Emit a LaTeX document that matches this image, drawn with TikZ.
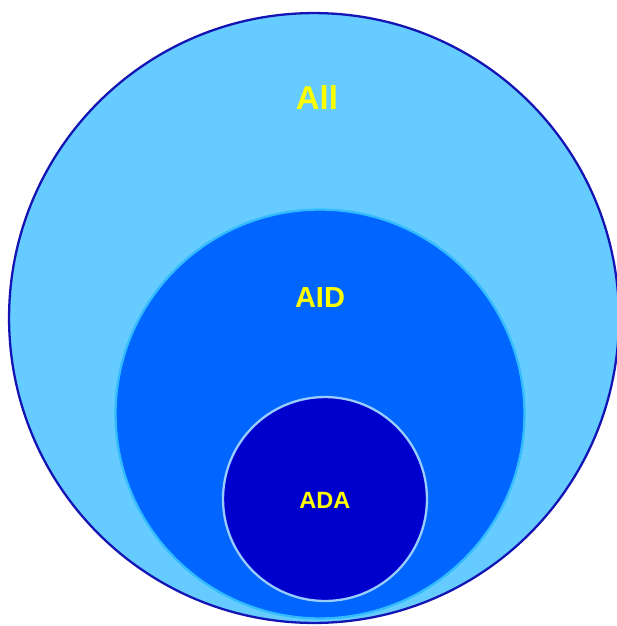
\documentclass[tikz,border=0pt]{standalone}
\usepackage{fontspec}
\setmainfont{Liberation Sans}
\usepackage{tikz}
\usetikzlibrary{positioning}

\definecolor{allfill}{HTML}{66CCFF}
\definecolor{allline}{HTML}{1414B4}
\definecolor{aidfill}{HTML}{0066FF}
\definecolor{aidline}{HTML}{33BBFF}
\definecolor{adafill}{HTML}{0000CC}
\definecolor{adaline}{HTML}{99CCFF}
\definecolor{labelyellow}{HTML}{FFFF00}

\begin{document}
\begin{tikzpicture}[
        x=0.02cm, y=-0.02cm,
        setnode/.style={circle, inner sep=0pt, line width=1.3pt},
        setlabel/.style={text=labelyellow, font=\bfseries, inner sep=0pt}
    ]
    \useasboundingbox (0,0) rectangle (616,626);
    % nested sets
    \node[setnode, draw=allline, fill=allfill, minimum size=12.2cm] (all) at (314,318) {};
    \node[setnode, draw=aidline, fill=aidfill, minimum size=8.18cm] (aid) at (320,414) {};
    \node[setnode, draw=adaline, fill=adafill, minimum size=4.08cm] (ada) at (325,499) {};
    % labels
    \node[setlabel, font=\fontsize{18.8pt}{20pt}\bfseries] (alllabel) at (317,98) {All};
    \node[setlabel, font=\fontsize{16.5pt}{18pt}\bfseries] (aidlabel) at (320,298) {AID};
    \node[setlabel, font=\fontsize{13.4pt}{15pt}\bfseries] (adalabel) at (325,500) {ADA};
\end{tikzpicture}
\end{document}
